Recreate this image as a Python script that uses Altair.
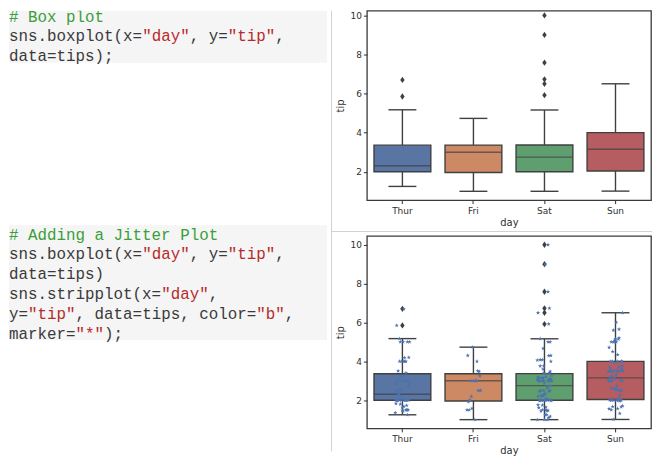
import altair as alt
import pandas as pd

# ---------------- data ----------------
days = ["Thur", "Fri", "Sat", "Sun"]

tips_thur = [4.00, 3.00, 2.71, 3.00, 3.40, 1.83, 5.00, 2.03, 5.17, 2.00, 4.00, 5.85, 3.00,
             1.50, 1.80, 2.92, 2.31, 1.68, 2.50, 2.00, 2.52, 4.20, 1.48,
             2.00, 2.00, 2.18, 1.50, 2.83, 1.50, 2.00, 3.25, 1.25, 2.00,
             2.00, 2.00, 2.75, 3.50, 6.70, 5.00, 5.00, 2.30, 1.50, 1.36,
             1.63, 1.73, 2.00,
             4.19, 2.56, 2.02, 4.00, 1.44, 2.00, 5.00, 2.00, 2.00, 4.00,
             2.01, 2.00, 2.50, 4.00, 3.23, 3.00]
tips_fri = [3.00, 3.50, 1.00, 4.30, 3.25, 4.73, 4.00, 1.50, 3.00, 1.50,
            2.50, 3.00, 2.20, 3.48, 1.92, 3.00, 1.58, 2.50, 2.00]
tips_sat = [3.35, 4.08, 2.75, 2.23, 7.58, 3.18, 2.34, 2.00, 2.00, 4.30,
            3.00, 1.45, 2.50, 3.00, 2.45, 3.27, 3.60, 2.00, 3.07, 2.31,
            5.00, 2.24,
            3.00, 1.50, 1.76, 6.73, 3.21, 2.00, 1.98, 3.76, 2.64, 3.15,
            2.47, 1.00, 2.01, 2.09, 1.97, 3.00, 3.14, 5.00, 2.20, 1.25, 3.08,
            2.50, 3.48, 4.08, 1.64, 4.06, 4.29, 3.76, 4.00, 3.00, 1.00,
            1.61, 2.00, 10.00, 3.16,
            3.41, 3.00, 2.03, 2.23, 2.00, 5.16, 9.00, 2.50, 6.50, 1.10,
            3.00, 1.50, 1.44, 3.09,
            3.00, 2.72, 2.88, 2.00, 3.00, 3.39, 1.47, 3.00, 1.25, 1.00,
            1.17, 4.67, 5.92, 2.00, 2.00, 1.75]
tips_sun = [1.01, 1.66, 3.50, 3.31, 3.61, 4.71, 2.00, 3.12, 1.96, 3.23,
            1.71, 5.00, 1.57, 3.00, 3.02, 3.92, 1.67, 3.71, 3.50,
            2.54, 3.06, 1.32, 5.60, 3.00, 5.00, 6.00, 2.05, 3.00, 2.50,
            2.60, 5.20, 1.56, 4.34, 3.51,
            4.00, 2.55, 4.00, 3.50, 5.07,
            2.50, 2.00, 2.74, 2.00, 2.00, 5.14, 5.00, 3.75, 2.61, 2.00,
            3.50, 2.50, 2.00, 2.00, 3.00, 3.48, 2.24, 4.50,
            5.15, 3.18, 4.00, 3.11, 2.00, 2.00, 4.00, 3.55, 3.68, 5.65,
            3.50, 6.50, 3.00, 5.00, 3.50, 2.00, 3.50, 4.00, 1.50]

# strip-plot jitter (hundredths of a category step)
jitter_thur = [3, -7, 9, -2, 5, -9, 1, 8, -4, 6,
               -1, -8, 4, 7, -3, 10, -6, 2, -10, 5,
               -5, 9, 0, -7, 3, -2, 8, -9, 6, -4,
               1, 7, -8, 4, -1, 9, -6, 2, -3, 10,
               -5, 5, -10, 0, 6, -7, 3, -2, 8, -4,
               1, -9, 7, -6, 4, 2, -8, 9, -3, 5,
               -1, 6]
jitter_fri = [-4, 6, 2, -8, 9, -1, 5, -6, 3, -9,
              7, 0, -3, 8, -7, 4, -2, 10, -5]
jitter_sat = [2, -6, 8, -3, 5, -9, 0, 7, -4, 9,
              -8, 3, -1, 6, -7, 10, -2, 4, -10, 1,
              8, -5, 5, -3, -9, 7, 2, -6, 9, -1,
              4, -8, 6, 0, -4, 3, -7, 10, -2, 5,
              -9, 1, 7, -5, 8, -3, 2, -10, 6, -6,
              9, -1, 4, -8, 0, 5, -4, 7, -7, 3,
              -2, 10, -6, 1, 8, -9, 6, -3, 2, -5,
              9, -8, 4, 0, -4, 7, -1, 5, -7, 3,
              -10, 8, -2, 6, -6, 1, -3]
jitter_sun = [-3, 8, -6, 1, 9, -9, 4, -2, 6, -5,
              10, -1, 3, -8, 7, 0, -4, 5, -7, 2,
              -10, 6, -3, 9, -6, 1, 4, -8, 8, -2,
              5, -9, 3, 7, -4, 0, -7, 10, -1, 6,
              -5, 2, 8, -8, 4, -3, 9, -6, 1, -10,
              7, -2, 5, -9, 3, 6, -4, 0, -7, 8,
              -1, 4, -6, 9, 2, -8, 5, -3, 10, -5,
              1, -9, 7, -2, 3, -6]

box_colors = ["#5975a4", "#cc8963", "#5f9e6e", "#b55d60"]
strip_color = "#4c72b0"

code_block_1 = [
    [("# Box plot", "comment")],
    [("sns.boxplot(x=", "code"), ('"day"', "str"), (", y=", "code"), ('"tip"', "str"), (",", "code")],
    [("data=tips);", "code")],
]
code_block_2 = [
    [("# Adding a Jitter Plot", "comment")],
    [("sns.boxplot(x=", "code"), ('"day"', "str"), (", y=", "code"), ('"tip"', "str"), (",", "code")],
    [("data=tips)", "code")],
    [("sns.stripplot(x=", "code"), ('"day"', "str"), (",", "code")],
    [("y=", "code"), ('"tip"', "str"), (", data=tips, color=", "code"), ('"b"', "str"), (",", "code")],
    [("marker=", "code"), ('"*"', "str"), (");", "code")],
]
code_blocks = [code_block_1, code_block_2]
code_first_lines = [0, 11]
token_kinds = ["comment", "code", "str"]
token_colors = ["#3a9e3a", "#3a3a3a", "#b52a2a"]

# ---------------- tables ----------------
tip_lists = [tips_thur, tips_fri, tips_sat, tips_sun]
jit_lists = [jitter_thur, jitter_fri, jitter_sat, jitter_sun]
rows = []
for d, tl, jl in zip(days, tip_lists, jit_lists):
    assert len(tl) == len(jl), (d, len(tl), len(jl))
    for t, j in zip(tl, jl):
        rows.append({"day": d, "tip": t, "jit": j / 100.0})
tips = pd.DataFrame(rows)

code_rows = []
for first, block in zip(code_first_lines, code_blocks):
    for i, segs in enumerate(block):
        col = 0
        for txt, kind in segs:
            s = txt.lstrip(" ")
            code_rows.append({"line": first + i, "col": col + len(txt) - len(s), "text": s, "kind": kind})
            col += len(txt)
code_df = pd.DataFrame(code_rows)
blocks_df = pd.DataFrame({"first": code_first_lines,
                          "last": [f + len(b) - 1 for f, b in zip(code_first_lines, code_blocks)]})
dummy = pd.DataFrame({"k": [0]})

GRID = "#d2d2d2"
EDGE = "#404040"
TXT = "#303030"
CODE_W, CODE_H = 324, 442
PW = 285
PH1, PH2 = 190, 193

# ---------------- code panel ----------------
xs = alt.Scale(domain=[0, 33.96], nice=False, zero=False)
ys = alt.Scale(domain=[-0.302, 21.932], reverse=True, nice=False, zero=False)

bg = alt.Chart(blocks_df).transform_calculate(
    y0="max(datum.first - 0.48, -0.3)", y1="datum.last + 0.33", x0="0", x1="33.44"
).mark_rect(color="#f5f5f5").encode(
    x=alt.X("x0:Q", scale=xs, axis=None), x2="x1:Q",
    y=alt.Y("y0:Q", scale=ys, axis=None), y2="y1:Q",
)
code_text = alt.Chart(code_df).mark_text(
    font="Liberation Mono", fontSize=15.9, align="left", baseline="middle", clip=True
).encode(
    x=alt.X("col:Q", scale=xs, axis=None),
    y=alt.Y("line:Q", scale=ys, axis=None),
    text="text:N",
    color=alt.Color("kind:N", scale=alt.Scale(domain=token_kinds, range=token_colors), legend=None),
)
div_rule = alt.Chart(dummy).mark_rule(color=GRID, strokeWidth=1).encode(
    x=alt.value(CODE_W - 0.5), y=alt.value(0), y2=alt.value(CODE_H))

code_panel = alt.layer(bg, code_text, div_rule).properties(
    width=CODE_W, height=CODE_H, view=alt.ViewBackground(stroke="transparent"))

# ---------------- box plots ----------------
diamond = "M0,-1L0.7,0L0,1L-0.7,0Z"
star = ("M0,-1L0.24,-0.31L0.95,-0.31L0.38,0.12L0.59,0.81L0,0.4"
        "L-0.59,0.81L-0.38,0.12L-0.95,-0.31L-0.24,-0.31Z")

X = alt.X("day:N", sort=days, scale=alt.Scale(domain=days, paddingInner=0, paddingOuter=0),
          axis=alt.Axis(labelAngle=0, domain=False, grid=False, tickSize=3.5, tickColor=TXT,
                        labelPadding=3, titlePadding=2, labelFontSize=9, titleFontSize=10,
                        titleFontWeight="normal", labelColor=TXT, titleColor=TXT,
                        labelFont="DejaVu Sans", titleFont="DejaVu Sans"),
          title="day")


def y_enc(top):
    return alt.Y("tip:Q", scale=alt.Scale(domain=[0.55, top], nice=False, zero=False),
                 axis=alt.Axis(values=[2, 4, 6, 8, 10], format="d", domain=False, grid=False,
                               tickSize=3.5, tickColor=TXT, labelPadding=2, titlePadding=5,
                               labelFontSize=9, titleFontSize=10, titleFontWeight="normal",
                               labelColor=TXT, titleColor=TXT,
                               labelFont="DejaVu Sans", titleFont="DejaVu Sans"),
                 title="tip")


def boxes(Y):
    return alt.Chart(tips).mark_boxplot(
        extent=1.5, size=57, outliers=False,
        box={"stroke": EDGE, "strokeWidth": 1.4},
        median={"color": EDGE, "thickness": 1.4},
        rule={"color": EDGE, "strokeWidth": 1.4},
        ticks={"color": EDGE, "size": 28, "thickness": 1.4},
    ).encode(
        x=X, y=Y,
        color=alt.Color("day:N", scale=alt.Scale(domain=days, range=box_colors), legend=None),
    )


def fliers(Y):
    return alt.Chart(tips).transform_joinaggregate(
        q1="q1(tip)", q3="q3(tip)", groupby=["day"]
    ).transform_filter(
        "datum.tip < datum.q1 - 1.5 * (datum.q3 - datum.q1) || "
        "datum.tip > datum.q3 + 1.5 * (datum.q3 - datum.q1)"
    ).mark_point(
        shape=diamond, filled=True, color=EDGE, size=40, opacity=1, strokeWidth=0
    ).encode(x=X, y=Y)


def strip(Y):
    return alt.Chart(tips).mark_point(
        shape=star, filled=True, size=20, color=strip_color, opacity=1, strokeWidth=0
    ).encode(
        x=X,
        xOffset=alt.XOffset("jit:Q", scale=alt.Scale(domain=[-0.5, 0.5])),
        y=Y,
    )


hdiv_rule = alt.Chart(dummy).mark_rule(color=GRID, strokeWidth=1).encode(
    y=alt.value(-4.5), x=alt.value(-36), x2=alt.value(PW + 1))

Y1 = y_enc(10.24)
Y2 = y_enc(10.45)
p1 = alt.layer(boxes(Y1), fliers(Y1)).properties(width=PW, height=PH1)
p2 = alt.layer(boxes(Y2), fliers(Y2), strip(Y2), hdiv_rule).properties(width=PW, height=PH2)

right_col = alt.vconcat(p1, p2, spacing=36, bounds="flush").resolve_scale(
    x="independent", y="independent", color="independent")

chart = alt.hconcat(code_panel, right_col, spacing=35, bounds="flush").resolve_scale(
    x="independent", y="independent", color="independent"
).properties(
    padding={"left": 0, "top": 0, "right": 0, "bottom": 0},
    background="white",
).configure_view(
    stroke="#3a3a3a", strokeWidth=1.3
)

chart.save("out.html", embed_options={"renderer": "svg", "actions": False})
